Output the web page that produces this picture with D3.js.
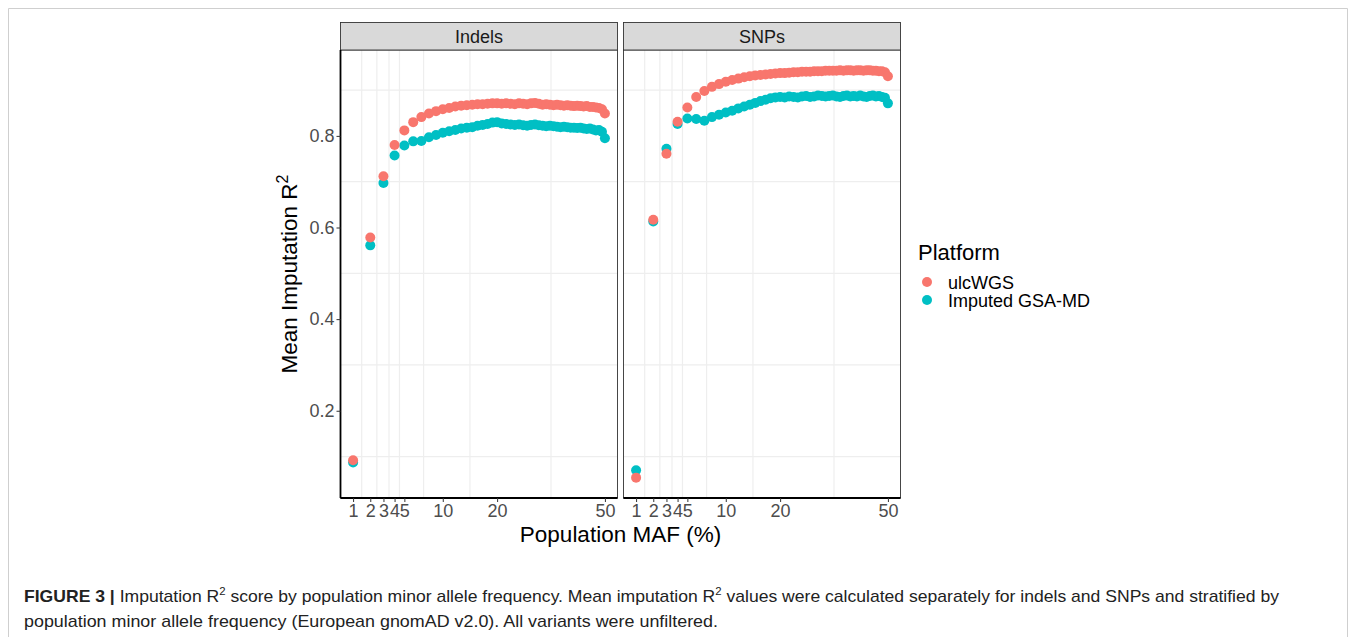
<!DOCTYPE html>
<html>
<head>
<meta charset="utf-8">
<script src="https://cdn.jsdelivr.net/npm/d3@7"></script>
<style>
  html, body { margin: 0; padding: 0; background: #fff; }
  svg { display: block; }
</style>
</head>
<body>
<svg id="chart" width="1356" height="637"></svg>
<script>
// ---------------- DATA ----------------
const maf = [1,2,3,4,5,6,7,8,9,10,11,12,13,14,15,16,17,18,19,20,21,22,23,24,25,26,27,28,29,30,31,32,33,34,35,36,37,38,39,40,41,42,43,44,45,46,47,48,49,50];
const xTicks = [1,2,3,4,5,10,20,50];
const yTicks = [0.2,0.4,0.6,0.8];
const yMinor = [0.1,0.3,0.5,0.7,0.9];
const panels = ["Indels", "SNPs"];
const platforms = ["ulcWGS", "Imputed GSA-MD"];

const indelsUlcWGS = [0.092,0.578,0.712,0.780,0.812,0.830,0.841,0.849,0.854,0.858,0.861,0.864,0.866,0.867,0.868,0.869,0.869,0.870,0.871,0.871,0.870,0.871,0.870,0.869,0.871,0.870,0.869,0.871,0.872,0.870,0.868,0.869,0.868,0.867,0.868,0.867,0.866,0.867,0.866,0.865,0.866,0.865,0.864,0.865,0.863,0.863,0.862,0.861,0.858,0.849];
const indelsGSA = [0.087,0.561,0.697,0.757,0.779,0.788,0.789,0.797,0.802,0.807,0.810,0.813,0.816,0.818,0.819,0.822,0.824,0.826,0.829,0.830,0.827,0.826,0.825,0.824,0.825,0.823,0.822,0.824,0.825,0.823,0.822,0.821,0.822,0.821,0.820,0.819,0.820,0.819,0.818,0.818,0.817,0.818,0.816,0.815,0.816,0.814,0.812,0.813,0.809,0.795];
const snpsUlcWGS = [0.054,0.617,0.761,0.831,0.862,0.885,0.898,0.907,0.913,0.918,0.922,0.925,0.928,0.930,0.932,0.933,0.934,0.935,0.936,0.937,0.937,0.938,0.939,0.939,0.940,0.940,0.940,0.941,0.941,0.941,0.942,0.942,0.942,0.942,0.943,0.942,0.943,0.943,0.942,0.943,0.943,0.942,0.943,0.943,0.942,0.942,0.941,0.941,0.939,0.930];
const snpsGSA = [0.070,0.613,0.772,0.826,0.838,0.837,0.833,0.841,0.846,0.851,0.855,0.860,0.864,0.868,0.872,0.876,0.879,0.882,0.884,0.885,0.884,0.886,0.885,0.884,0.886,0.887,0.885,0.886,0.888,0.887,0.886,0.887,0.888,0.886,0.885,0.887,0.888,0.886,0.887,0.886,0.888,0.886,0.885,0.887,0.888,0.886,0.887,0.885,0.883,0.871];

const seriesByPanel = {
  "Indels": {"ulcWGS": indelsUlcWGS, "Imputed GSA-MD": indelsGSA},
  "SNPs":   {"ulcWGS": snpsUlcWGS,   "Imputed GSA-MD": snpsGSA}
};

// ---------------- STYLE / LAYOUT ----------------
const colors = {"ulcWGS": "#F8766D", "Imputed GSA-MD": "#00BFC4"};
const FONT = "'Liberation Sans', Arial, Helvetica, sans-serif";
const panelTop = 50, panelBottom = 498, stripTop = 22.5;
const panelX = {"Indels": [340.5, 617.5], "SNPs": [623.5, 900.5]};
const ptR = 5;

const svg = d3.select("#chart");

// outer frame
svg.append("path")
  .attr("d", "M8.5,637 L8.5,8.5 L1347.5,8.5 L1347.5,637")
  .attr("fill", "none").attr("stroke", "#cfcfcf").attr("stroke-width", 1);

// y scale with 5% expansion computed from data
const allY = [].concat(indelsUlcWGS, indelsGSA, snpsUlcWGS, snpsGSA);
const yMin = d3.min(allY), yMax = d3.max(allY), yPad = (yMax - yMin) * 0.05;
const y = d3.scaleLinear().domain([yMin - yPad, yMax + yPad]).range([panelBottom, panelTop]);

// x: sqrt scale with 5% expansion in transformed space
const sMin = Math.sqrt(d3.min(maf)), sMax = Math.sqrt(d3.max(maf)), sPad = (sMax - sMin) * 0.05;
const xDomain = [Math.pow(sMin - sPad, 2), Math.pow(sMax + sPad, 2)];

// minor breaks: midpoints of major breaks in sqrt space
const xMinor = [];
for (let i = 0; i < xTicks.length - 1; i++) {
  xMinor.push(Math.pow((Math.sqrt(xTicks[i]) + Math.sqrt(xTicks[i+1])) / 2, 2));
}

panels.forEach((p, pi) => {
  const [x0, x1] = panelX[p];
  const x = d3.scaleSqrt().domain(xDomain).range([x0, x1]);
  const g = svg.append("g");

  g.append("rect").attr("x", x0).attr("y", panelTop).attr("width", x1 - x0).attr("height", panelBottom - panelTop)
    .attr("fill", "#fff");

  // minor grid
  g.selectAll(".gy").data(yMinor).join("line")
    .attr("x1", x0).attr("x2", x1).attr("y1", d => y(d)).attr("y2", d => y(d))
    .attr("stroke", "#EEEEEE").attr("stroke-width", 1.2);
  g.selectAll(".gx").data(xMinor).join("line")
    .attr("y1", panelTop).attr("y2", panelBottom).attr("x1", d => x(d)).attr("x2", d => x(d))
    .attr("stroke", "#EEEEEE").attr("stroke-width", 1.2);

  // points: GSA first, ulcWGS on top
  ["Imputed GSA-MD", "ulcWGS"].forEach(s => {
    const vals = seriesByPanel[p][s];
    g.selectAll(null).data(maf.map((m, i) => ({m, v: vals[i]}))).join("circle")
      .attr("cx", d => x(d.m)).attr("cy", d => y(d.v)).attr("r", ptR)
      .attr("fill", colors[s]);
  });

  // panel border
  g.append("rect").attr("x", x0).attr("y", panelTop).attr("width", x1 - x0).attr("height", panelBottom - panelTop)
    .attr("fill", "none").attr("stroke", "#333").attr("stroke-width", 0.9);

  // strip
  g.append("rect").attr("x", x0).attr("y", stripTop).attr("width", x1 - x0).attr("height", panelTop - stripTop)
    .attr("fill", "#D9D9D9").attr("stroke", "#333").attr("stroke-width", 0.9);
  g.append("text").attr("x", (x0 + x1) / 2).attr("y", (stripTop + panelTop) / 2 + 6.3)
    .attr("text-anchor", "middle").attr("font-family", FONT).attr("font-size", 18)
    .attr("fill", "#1A1A1A").text(p);

  // x axis
  const xAxis = d3.axisBottom(x).tickValues(xTicks).tickSize(4).tickPadding(2).tickFormat(d3.format("d"));
  const gx = svg.append("g").attr("transform", `translate(0,${panelBottom})`).call(xAxis);
  gx.select(".domain").attr("stroke", "#000").attr("stroke-width", 1.8).attr("d", `M${x0},0H${x1}`);
  gx.selectAll(".tick line").attr("stroke", "#333").attr("stroke-width", 1);
  gx.selectAll(".tick text").attr("font-family", FONT).attr("font-size", 18).attr("fill", "#4D4D4D");

  if (pi === 0) {
    const yAxis = d3.axisLeft(y).tickValues(yTicks).tickSize(4).tickPadding(2).tickFormat(d3.format(".1f"));
    const gy = svg.append("g").attr("transform", `translate(${x0},0)`).call(yAxis);
    gy.select(".domain").attr("stroke", "#000").attr("stroke-width", 1.8).attr("d", `M0,${panelTop}V${panelBottom}`);
    gy.selectAll(".tick line").attr("stroke", "#333").attr("stroke-width", 1);
    gy.selectAll(".tick text").attr("font-family", FONT).attr("font-size", 18).attr("fill", "#4D4D4D");
  }
});

// axis titles
svg.append("text").attr("x", (panelX.Indels[0] + panelX.SNPs[1]) / 2).attr("y", 542)
  .attr("text-anchor", "middle").attr("font-family", FONT).attr("font-size", 22.5).attr("fill", "#000")
  .text("Population MAF (%)");

const yt = svg.append("text").attr("transform", `translate(297,${(panelTop + panelBottom) / 2}) rotate(-90)`)
  .attr("text-anchor", "middle").attr("font-family", FONT).attr("font-size", 22.5).attr("fill", "#000");
yt.append("tspan").text("Mean Imputation R");
yt.append("tspan").attr("font-size", 16).attr("dy", -9).text("2");

// legend
const lg = svg.append("g");
lg.append("text").attr("x", 918).attr("y", 260).attr("font-family", FONT).attr("font-size", 22).attr("fill", "#000").text("Platform");
platforms.forEach((s, i) => {
  lg.append("circle").attr("cx", 927).attr("cy", 282 + i * 18).attr("r", ptR).attr("fill", colors[s]);
  lg.append("text").attr("x", 948).attr("y", 288.5 + i * 18).attr("font-family", FONT).attr("font-size", 18)
    .attr("fill", "#000").text(s);
});

// caption
const CFONT = "'Liberation Sans Narrow', 'Arial Narrow', 'Liberation Sans', Arial, sans-serif";
const c1 = svg.append("text").attr("x", 24).attr("y", 602).attr("font-family", CFONT).attr("font-size", 17).attr("fill", "#222");
c1.append("tspan").attr("font-weight", "bold").text("FIGURE 3 | ");
c1.append("tspan").text("Imputation R");
c1.append("tspan").attr("font-size", 11).attr("dy", -7).text("2");
c1.append("tspan").attr("dy", 7).text(" score by population minor allele frequency. Mean imputation R");
c1.append("tspan").attr("font-size", 11).attr("dy", -7).text("2");
c1.append("tspan").attr("dy", 7).text(" values were calculated separately for indels and SNPs and stratified by");
const c2 = svg.append("text").attr("x", 24).attr("y", 627).attr("font-family", CFONT).attr("font-size", 17).attr("fill", "#222")
  .text("population minor allele frequency (European gnomAD v2.0). All variants were unfiltered.");
[[c1, 1255], [c2, 694]].forEach(([t, w]) => {
  t.attr("textLength", w).attr("lengthAdjust", "spacingAndGlyphs");
});
</script>
</body>
</html>
